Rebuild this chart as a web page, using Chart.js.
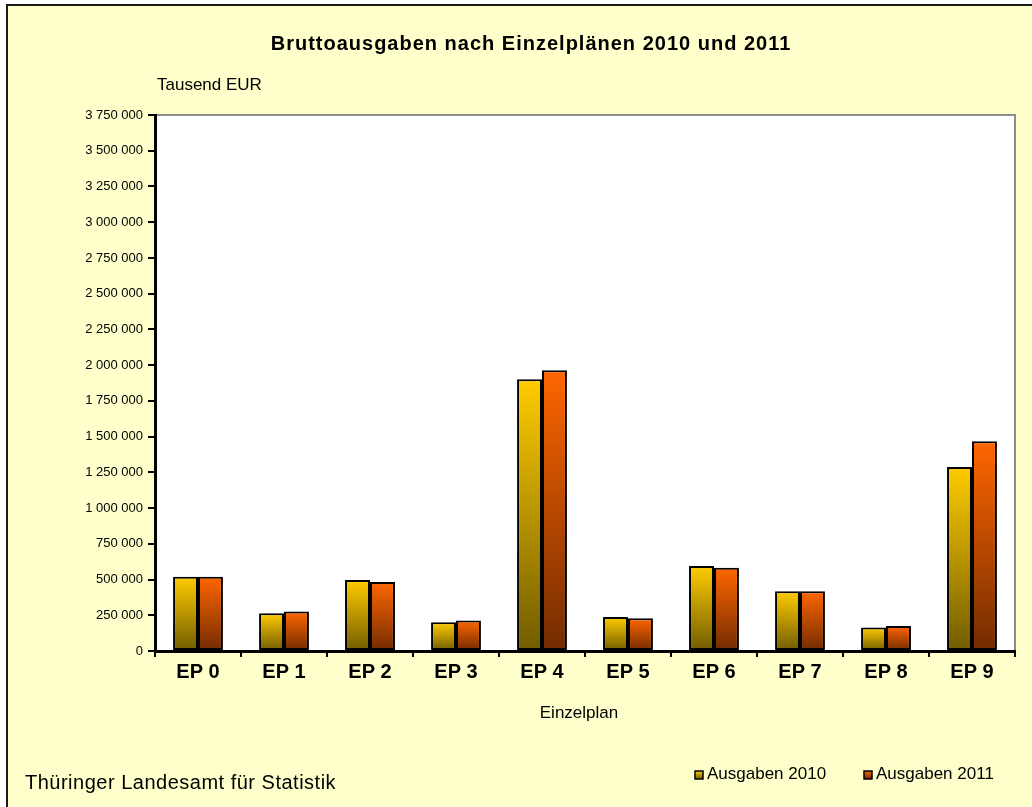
<!DOCTYPE html>
<html>
<head>
<meta charset="utf-8">
<script src="https://cdn.jsdelivr.net/npm/chart.js@4"></script>
<style>
  html, body { margin: 0; padding: 0; background: #fff; }
  canvas { display: block; }
</style>
</head>
<body>
<canvas id="chart" width="1032" height="807"></canvas>
<script>
// Daten (Tausend EUR)
var categories = ['EP 0', 'EP 1', 'EP 2', 'EP 3', 'EP 4', 'EP 5', 'EP 6', 'EP 7', 'EP 8', 'EP 9'];
var ausgaben2010 = [520000, 264000, 497000, 201000, 1901000, 238000, 595000, 418000, 164000, 1287000];
var ausgaben2011 = [520000, 276000, 483000, 213000, 1964000, 229000, 583000, 418000, 175000, 1467000];
var seriesLabels = ['Ausgaben 2010', 'Ausgaben 2011'];
var yMax = 3750000;
var yStep = 250000;

var FONT = '"Liberation Sans", Arial, sans-serif';

function formatNumber(v) {
  return String(v).replace(/\B(?=(\d{3})+(?!\d))/g, ' ');
}

// Verlauf pro Balken: hell oben, dunkel unten
function barGradient(topColor, bottomColor) {
  return function(ctx) {
    var chart = ctx.chart;
    var y = chart.scales.y;
    if (!y || ctx.type !== 'data') return topColor;
    var yTop = y.getPixelForValue(ctx.raw);
    var yBase = y.getPixelForValue(0);
    if (!isFinite(yTop) || !isFinite(yBase) || yTop === yBase) return topColor;
    var g = chart.ctx.createLinearGradient(0, yTop, 0, yBase);
    g.addColorStop(0, topColor);
    g.addColorStop(1, bottomColor);
    return g;
  };
}

var colors2010 = ['#FFCC00', '#715C00'];
var colors2011 = ['#FF6600', '#722B00'];

var frame = {
  id: 'frame',
  beforeDraw: function(chart) {
    var c = chart.ctx;
    var a = chart.chartArea;
    c.save();
    c.fillStyle = '#ffffff';
    c.fillRect(0, 0, chart.width, chart.height);
    c.fillStyle = '#FFFFCC';
    c.fillRect(7, 5, chart.width + 20, chart.height + 20);
    c.strokeStyle = '#1a1a1a';
    c.lineWidth = 2;
    c.strokeRect(7, 5, chart.width + 20, chart.height + 20);
    // Zeichenfläche
    c.fillStyle = '#ffffff';
    c.fillRect(a.left, a.top, a.right - a.left, a.bottom - a.top);
    c.strokeStyle = '#8c8c8c';
    c.lineWidth = 2;
    c.beginPath();
    c.moveTo(a.left, a.top);
    c.lineTo(a.right, a.top);
    c.lineTo(a.right, a.bottom);
    c.stroke();
    c.restore();
  },
  afterDraw: function(chart) {
    var c = chart.ctx;
    c.save();
    c.fillStyle = '#000';
    c.textBaseline = 'alphabetic';

    c.font = 'bold 20px ' + FONT;
    c.textAlign = 'center';
    c.letterSpacing = '1px';
    c.fillText('Bruttoausgaben nach Einzelplänen 2010 und 2011', 531, 50);
    c.letterSpacing = '0px';

    c.textAlign = 'left';
    c.font = '17px ' + FONT;
    c.fillText('Tausend EUR', 157, 90);

    c.textAlign = 'center';
    c.fillText('Einzelplan', 579, 718);

    c.textAlign = 'left';
    c.font = '20px ' + FONT;
    c.letterSpacing = '0.5px';
    c.fillText('Thüringer Landesamt für Statistik', 25, 789);
    c.letterSpacing = '0px';

    // Legende
    var items = [
      { x: 695, label: seriesLabels[0], col: colors2010 },
      { x: 864, label: seriesLabels[1], col: colors2011 }
    ];
    items.forEach(function(it) {
      var g = c.createLinearGradient(0, 771, 0, 779);
      g.addColorStop(0, it.col[0]);
      g.addColorStop(1, it.col[1]);
      c.fillStyle = g;
      c.fillRect(it.x, 771, 8, 8);
      c.strokeStyle = '#000';
      c.lineWidth = 1.5;
      c.strokeRect(it.x, 771, 8, 8);
      c.fillStyle = '#000';
      c.font = '17px ' + FONT;
      c.fillText(it.label, it.x + 12, 779);
    });
    c.restore();
  }
};

new Chart(document.getElementById('chart'), {
  type: 'bar',
  data: {
    labels: categories,
    datasets: [
      {
        label: seriesLabels[0],
        data: ausgaben2010,
        backgroundColor: barGradient(colors2010[0], colors2010[1]),
        borderColor: '#000',
        borderWidth: 2,
        borderSkipped: false
      },
      {
        label: seriesLabels[1],
        data: ausgaben2011,
        backgroundColor: barGradient(colors2011[0], colors2011[1]),
        borderColor: '#000',
        borderWidth: 2,
        borderSkipped: false
      }
    ]
  },
  options: {
    responsive: false,
    animation: false,
    events: [],
    categoryPercentage: 0.58,
    barPercentage: 1,
    layout: { padding: { left: 0, top: 115, right: 17, bottom: 0 } },
    plugins: {
      legend: { display: false },
      title: { display: false },
      tooltip: { enabled: false }
    },
    scales: {
      x: {
        afterFit: function(scale) { scale.height = 156; },
        grid: {
          drawOnChartArea: false,
          drawTicks: true,
          tickLength: 6,
          color: '#000',
          lineWidth: 2
        },
        border: { display: true, color: '#000', width: 3 },
        ticks: {
          color: '#000',
          padding: 3,
          font: { family: FONT, size: 20, weight: 'bold' }
        }
      },
      y: {
        min: 0,
        max: yMax,
        afterFit: function(scale) { scale.width = 155; },
        grid: {
          drawOnChartArea: false,
          drawTicks: true,
          tickLength: 7,
          color: '#000',
          lineWidth: 2
        },
        border: { display: true, color: '#000', width: 3 },
        ticks: {
          stepSize: yStep,
          color: '#000',
          padding: 5,
          font: { family: FONT, size: 13 },
          callback: function(v) { return formatNumber(v); }
        }
      }
    }
  },
  plugins: [frame]
});
</script>
</body>
</html>
